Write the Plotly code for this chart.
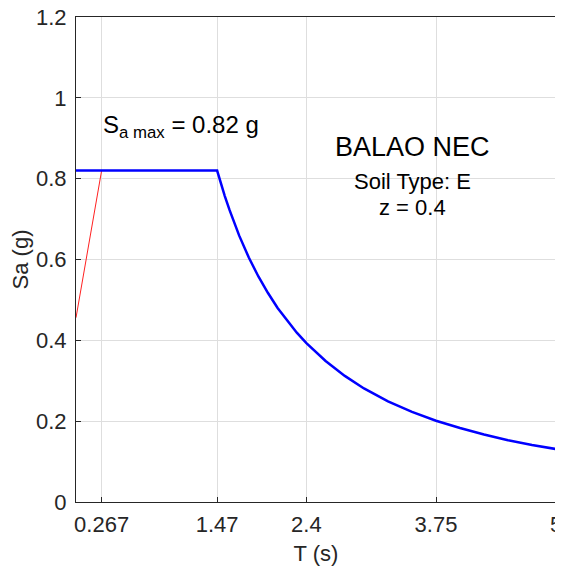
import plotly.graph_objects as go

# Data
period_blue = [0.0, 1.47, 1.55, 1.6, 1.7, 1.8, 1.9, 2.0, 2.1, 2.2, 2.3, 2.4, 2.6, 2.8, 3.0,
               3.25, 3.5, 3.75, 4.0, 4.25, 4.5, 4.75, 5.0]
sa_blue = [0.82, 0.82, 0.757, 0.722, 0.659, 0.605, 0.558, 0.517, 0.480, 0.448, 0.419, 0.393,
           0.349, 0.312, 0.281, 0.249, 0.223, 0.201, 0.183, 0.167, 0.153, 0.141, 0.131]
period_red = [0.0, 0.267]
sa_red = [0.456, 0.82]

x_ticks = [0.267, 1.47, 2.4, 3.75, 5]
x_tick_labels = ["0.267", "1.47", "2.4", "3.75", "5"]
y_ticks = [0, 0.2, 0.4, 0.6, 0.8, 1.0, 1.2]
y_tick_labels = ["0", "0.2", "0.4", "0.6", "0.8", "1", "1.2"]

FONT = "Liberation Sans, Arial, sans-serif"
AX = "#262626"
GRID = "#dedede"

fig = go.Figure()
fig.add_trace(go.Scatter(x=period_red, y=sa_red, mode="lines",
                         line=dict(color="#ff2020", width=1), showlegend=False))
fig.add_trace(go.Scatter(x=period_blue, y=sa_blue, mode="lines",
                         line=dict(color="#0000ff", width=2.5), showlegend=False))

fig.add_annotation(x=0.26, y=0.93, xref="x", yref="y", xanchor="left", yanchor="middle",
                   text="S<sub>a max</sub> = 0.82 g", showarrow=False,
                   font=dict(family=FONT, size=24, color="black"))
fig.add_annotation(x=3.51, y=0.879, xref="x", yref="y", xanchor="center", yanchor="middle",
                   text="BALAO NEC", showarrow=False,
                   font=dict(family=FONT, size=27, color="black"))
fig.add_annotation(x=3.51, y=0.794, xref="x", yref="y", xanchor="center", yanchor="middle",
                   text="Soil Type: E", showarrow=False,
                   font=dict(family=FONT, size=22, color="black"))
fig.add_annotation(x=3.51, y=0.7275, xref="x", yref="y", xanchor="center", yanchor="middle",
                   text="z = 0.4", showarrow=False,
                   font=dict(family=FONT, size=22, color="black"))

# The page body adds an 8px margin, so the figure is sized to fit the window after it.
fig.update_layout(
    width=555, height=558,
    margin=dict(l=68, r=7, t=9, b=64, autoexpand=False),
    paper_bgcolor="white", plot_bgcolor="white",
    font=dict(family=FONT, size=22, color=AX),
)
fig.update_xaxes(range=[0, 5], tickmode="array", tickvals=x_ticks, ticktext=x_tick_labels,
                 automargin=False, ticklabeloverflow="allow",
                 showgrid=True, gridcolor=GRID, gridwidth=1, zeroline=False,
                 showline=True, linecolor=AX, linewidth=1, mirror=True,
                 ticks="inside", ticklen=5, tickcolor=AX, ticklabelstandoff=3,
                 tickfont=dict(family=FONT, size=22, color=AX),
                 title=dict(text="T (s)", font=dict(family=FONT, size=22, color=AX), standoff=11))
fig.update_yaxes(range=[0, 1.2], tickmode="array", tickvals=y_ticks, ticktext=y_tick_labels,
                 automargin=False, ticklabeloverflow="allow",
                 showgrid=True, gridcolor=GRID, gridwidth=1, zeroline=False,
                 showline=True, linecolor=AX, linewidth=1, mirror=True,
                 ticks="inside", ticklen=5, tickcolor=AX, ticklabelstandoff=4,
                 tickfont=dict(family=FONT, size=22, color=AX),
                 title=dict(text="Sa (g)", font=dict(family=FONT, size=22, color=AX), standoff=3))

fig.write_html("out.html")
